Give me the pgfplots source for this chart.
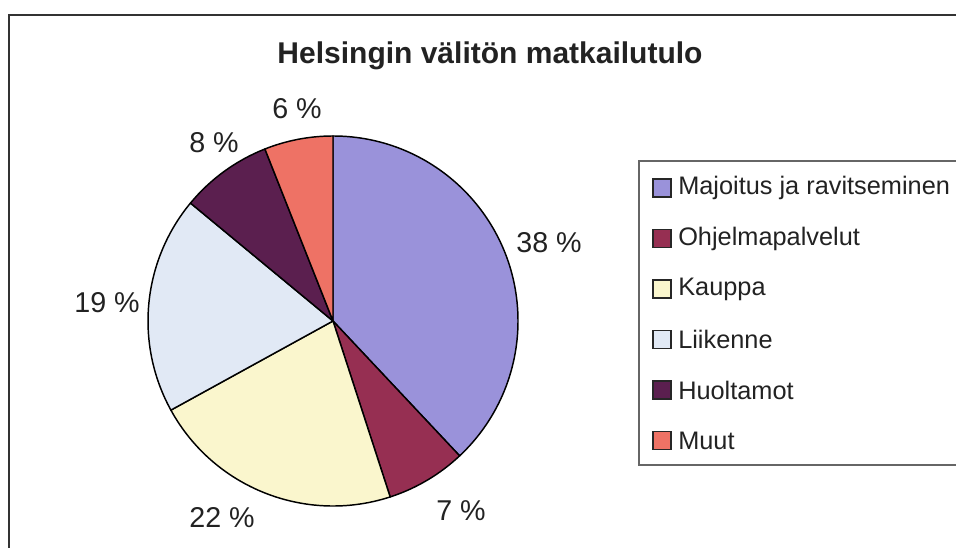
\documentclass[border=0pt]{standalone}
\usepackage{pgfplots}
\usepackage{pgfplotstable}
\pgfplotsset{compat=1.18}
\usepackage{fontspec}
\setmainfont{Liberation Sans}
\definecolor{cA}{HTML}{9A92DA}
\definecolor{cB}{HTML}{962F52}
\definecolor{cC}{HTML}{FAF6CD}
\definecolor{cD}{HTML}{E1E9F5}
\definecolor{cE}{HTML}{5B1F4F}
\definecolor{cF}{HTML}{EE7265}
\definecolor{txt}{HTML}{222222}
% label positions (lx, ly) in the picture's pixel grid, y upward
\pgfplotstableread[col sep=comma]{
label,value,color,lx,ly
Majoitus ja ravitseminen,38,cA,549,305
Ohjelmapalvelut,7,cB,461,37
Kauppa,22,cC,222,30
Liikenne,19,cD,107,245
Huoltamot,8,cE,214,405
Muut,6,cF,297,439
}\piedata
\begin{document}
\begin{tikzpicture}
\begin{axis}[x=0.75pt,y=0.75pt,xmin=0,xmax=956,ymin=0,ymax=548,hide axis,clip=false,scale only axis]
\coordinate (SW) at (rel axis cs:0,0);
\coordinate (NE) at (rel axis cs:1,1);
\draw[line width=1.8pt, black!80] (axis cs:9,0) -- (axis cs:9,533) -- (axis cs:956,533);
\node[font=\bfseries\fontsize{22.5}{26}\selectfont, text=txt] at (axis cs:490,492) {Helsingin välitön matkailutulo};
\draw[black!60, line width=0.8pt] (axis cs:956,387) -- (axis cs:639,387) -- (axis cs:639,83) -- (axis cs:956,83);
\gdef\pcum{90}
\pgfplotsinvokeforeach{0,...,5}{
  \pgfplotstablegetelem{#1}{value}\of\piedata \let\pval\pgfplotsretval
  \pgfplotstablegetelem{#1}{color}\of\piedata \let\pcol\pgfplotsretval
  \pgfplotstablegetelem{#1}{label}\of\piedata \let\plab\pgfplotsretval
  \pgfplotstablegetelem{#1}{lx}\of\piedata \let\lx\pgfplotsretval
  \pgfplotstablegetelem{#1}{ly}\of\piedata \let\ly\pgfplotsretval
  \pgfmathsetmacro\angA{\pcum}
  \pgfmathsetmacro\angB{\pcum-3.6*\pval}
  \pgfmathsetmacro\yy{360-50.5*#1}
  \pgfmathsetmacro\ylo{\yy-9}
  \pgfmathsetmacro\yhi{\yy+9}
  \xdef\pcum{\angB}
  \edef\doit{%
    \noexpand\filldraw[fill=\pcol, draw=black, line width=1.1pt, line join=round] (axis cs:333,227) -- ++(\angA:138.75pt) arc[start angle=\angA, end angle=\angB, radius=138.75pt] -- cycle;
    \noexpand\node[font=\noexpand\fontsize{21.5}{24}\noexpand\selectfont, text=txt] at (axis cs:\lx,\ly) {\pval\space\noexpand\%};
    \noexpand\filldraw[fill=\pcol, draw=black!85, line width=1.1pt] (axis cs:653,\ylo) rectangle (axis cs:671,\yhi);
    \noexpand\node[anchor=west, inner sep=0pt, font=\noexpand\fontsize{19}{22}\noexpand\selectfont, text=txt] at (axis cs:678,\yy) {\plab};
  }\doit
}
\end{axis}
\pgfresetboundingbox
\path (SW) rectangle (NE);
\end{tikzpicture}
\end{document}
